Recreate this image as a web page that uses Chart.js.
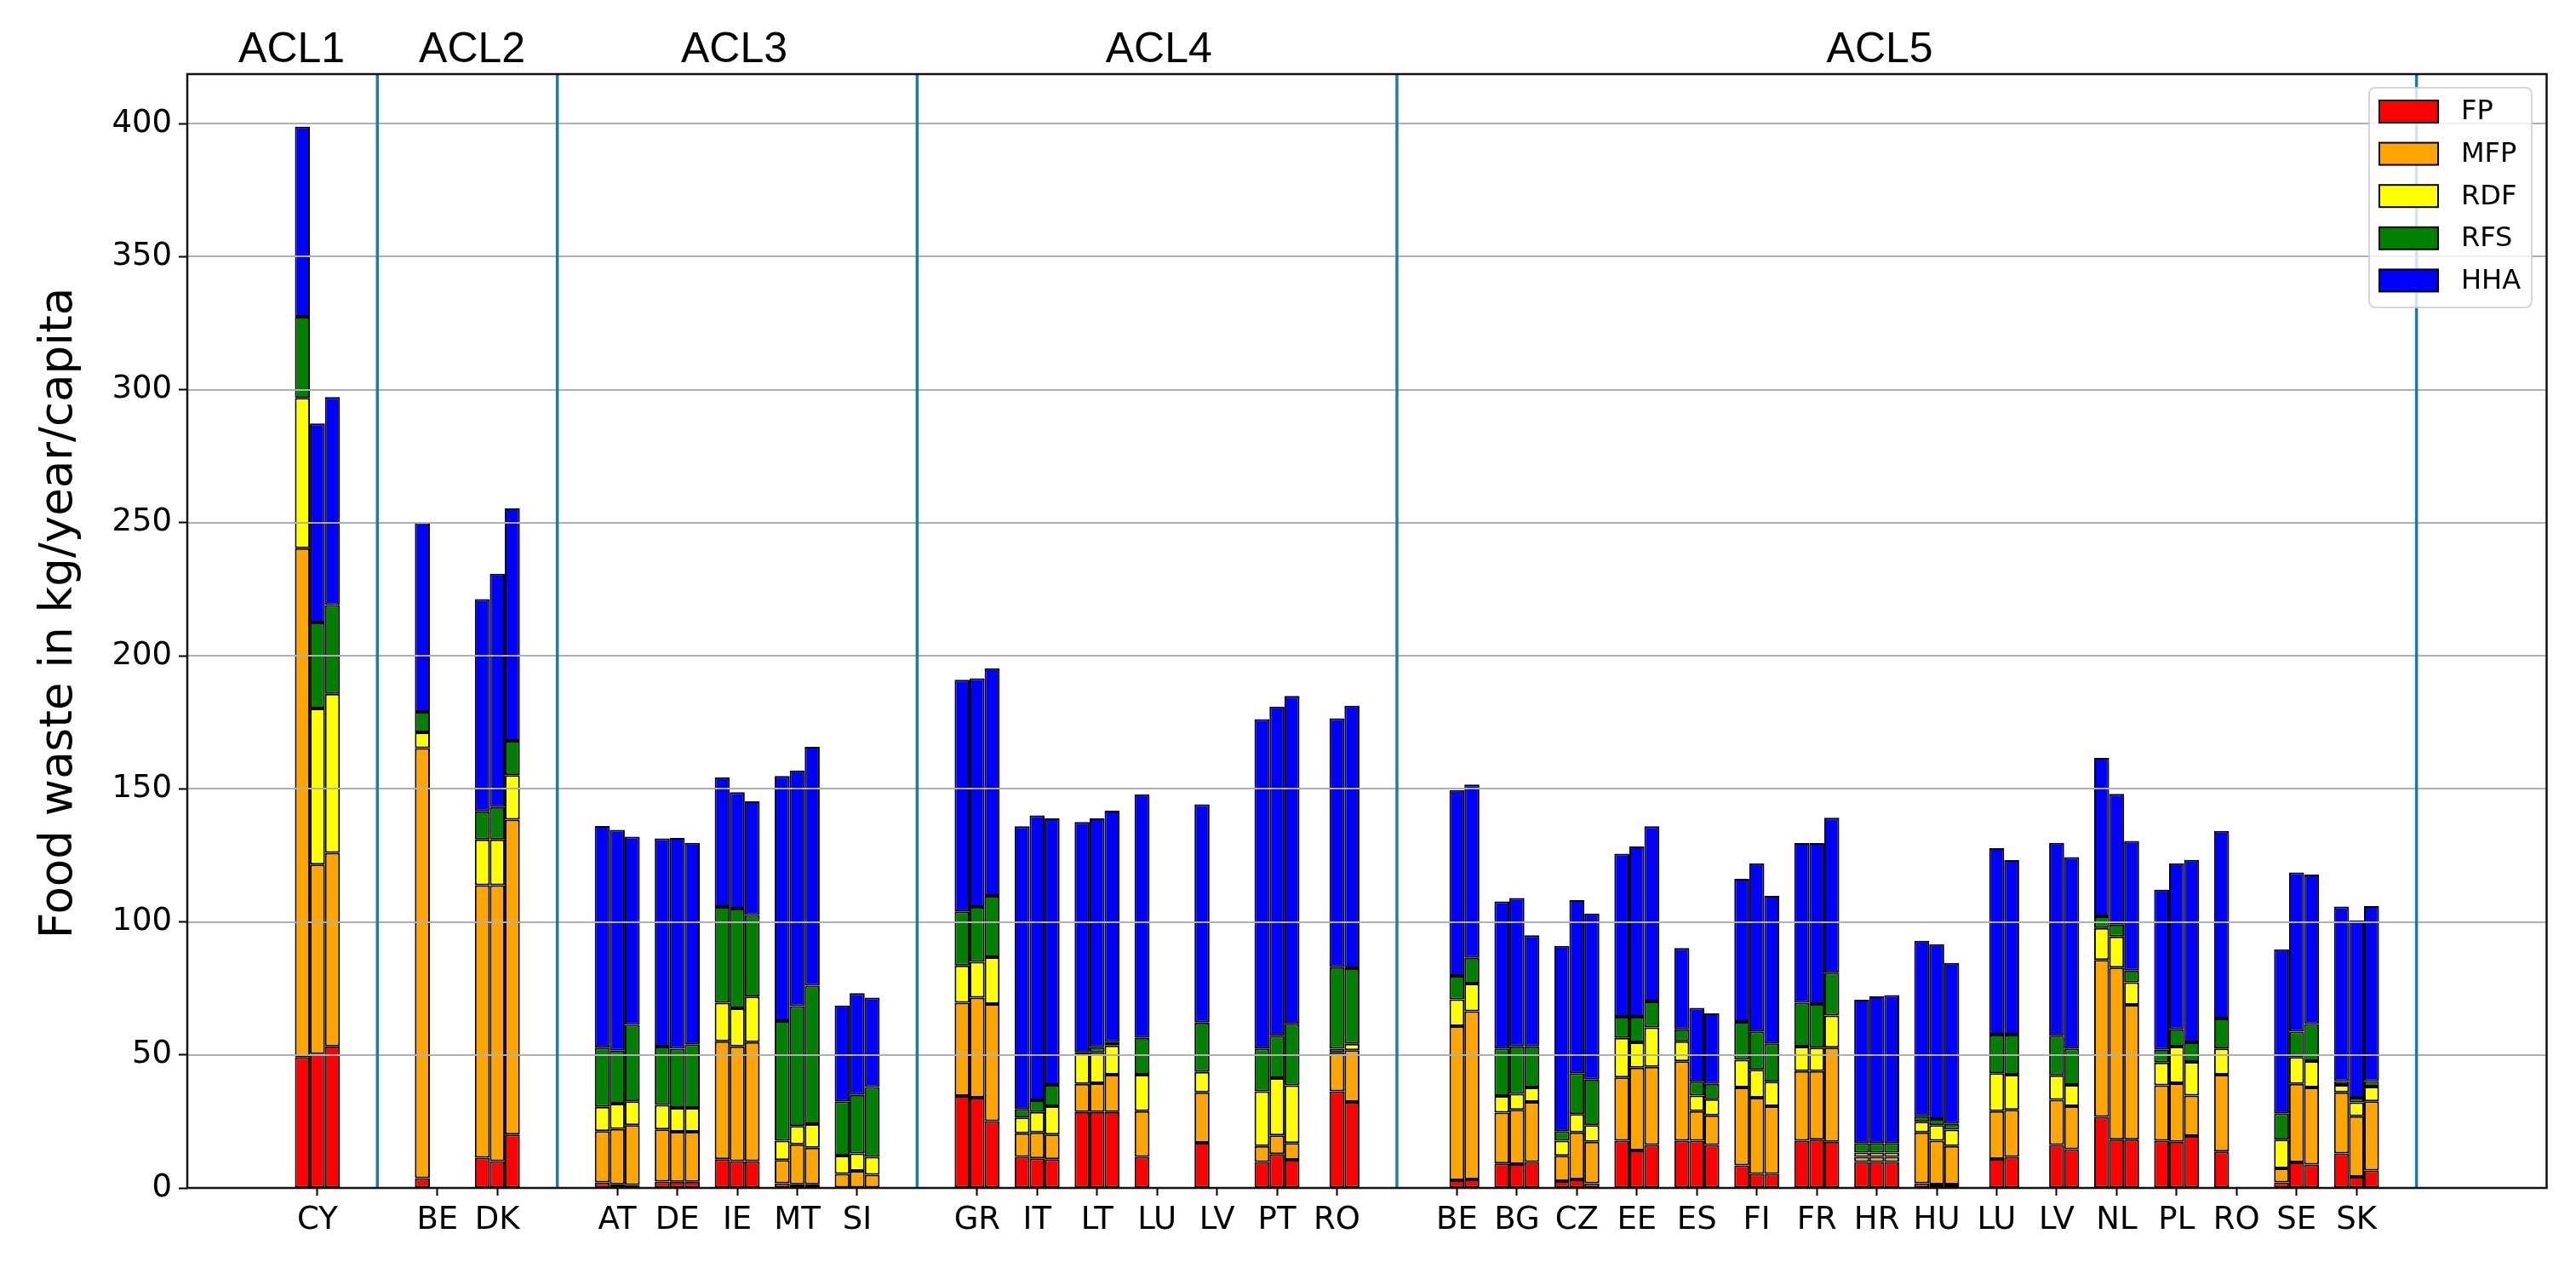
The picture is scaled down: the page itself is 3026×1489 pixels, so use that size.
<!DOCTYPE html>
<html>
<head>
<meta charset="utf-8">
<script src="https://cdn.jsdelivr.net/npm/chart.js@4.4.1/dist/chart.umd.min.js"></script>
<style>
html,body{margin:0;padding:0;background:#ffffff;}
canvas{display:block;}
</style>
</head>
<body>
<canvas id="c" width="3026" height="1489"></canvas>
<script>
// ---------------- DATA ----------------
const clusterNames = ['ACL1', 'ACL2', 'ACL3', 'ACL4', 'ACL5'];
const clusterCountries = [
  ['CY'],
  ['BE', 'DK'],
  ['AT', 'DE', 'IE', 'MT', 'SI'],
  ['GR', 'IT', 'LT', 'LU', 'LV', 'PT', 'RO'],
  ['BE', 'BG', 'CZ', 'EE', 'ES', 'FI', 'FR', 'HR', 'HU', 'LU', 'LV', 'NL', 'PL', 'RO', 'SE', 'SK']
];
const componentNames = ['FP', 'MFP', 'RDF', 'RFS', 'HHA'];
const yTicks = [0, 50, 100, 150, 200, 250, 300, 350, 400];

// values in kg/year/capita, one entry per country (flattened cluster order), null = no bar
// year 1 (left bar of each triplet)
const fp_y1  = [49.2, 3.7, 11.4, 2.1, 2.4, 10.8, 1.8, 0, 34.6, 11.7, 28.6, 11.7, 17.0, 9.8, null, null, 9.2, 2.6, 17.8, 17.8, 8.5, 17.8, 9.8, 1.8, null, null, 26.7, 17.8, 13.7, 2.1, 13.0];
const mfp_y1 = [191.2, 161.6, 102.4, 19.3, 19.6, 44.3, 8.7, 5.3, 35.0, 8.9, 10.5, 17.2, 18.9, 6.0, null, null, 19.1, 9.5, 23.7, 29.8, 29.3, 26.1, 1.9, 19.1, null, null, 59.0, 20.8, 28.9, 5.3, 22.9];
const rdf_y1 = [56.5, 5.9, 17.2, 9.1, 9.2, 14.5, 7.3, 6.9, 14.0, 5.9, 11.5, 13.7, 7.7, 20.5, null, null, 6.3, 5.7, 14.9, 7.5, 10.4, 9.2, 1.6, 4.0, null, null, 12.0, 8.5, 9.8, 10.8, 2.8];
const rfs_y1 = [30.5, 7.7, 10.5, 22.2, 21.9, 36.0, 44.9, 20.4, 20.3, 3.2, 0.5, 13.8, 18.6, 16.1, null, null, 17.8, 3.6, 7.9, 4.5, 14.2, 16.5, 3.6, 2.1, null, null, 4.4, 4.8, 11.3, 9.9, 1.5];
const hha_y1 = [71.4, 71.1, 79.8, 83.3, 78.3, 48.7, 92.1, 36.0, 87.1, 106.2, 86.4, 91.5, 82.0, 123.8, null, null, 55.3, 69.6, 61.3, 30.6, 53.8, 60.0, 53.8, 65.9, null, null, 59.5, 60.2, 70.5, 61.6, 65.6];
// year 2 (middle bar)
const fp_y2  = [50.3, null, 10.1, 1.4, 2.3, 10.1, 1.4, 0, 33.9, 11.1, 28.6, null, null, 12.7, 36.3, 2.9, 9.0, 3.2, 14.1, 17.8, 5.3, 18.2, 9.8, 1.3, 10.9, 16.2, 18.2, 17.4, null, 9.6, 4.2];
const mfp_y2 = [71.2, null, 103.7, 20.8, 18.8, 43.1, 15.0, 6.4, 37.6, 9.8, 10.8, null, null, 7.1, 14.7, 57.9, 20.4, 17.7, 31.1, 11.1, 28.6, 25.7, 1.9, 16.5, 18.0, 16.9, 64.6, 22.0, null, 29.5, 22.8];
const rdf_y2 = [58.7, null, 17.2, 9.5, 9.0, 14.3, 6.9, 6.6, 13.5, 7.7, 11.6, null, null, 21.5, 1.3, 10.1, 6.0, 6.9, 9.5, 5.8, 10.5, 8.8, 1.6, 5.8, 14.2, 9.2, 11.7, 13.7, null, 10.1, 5.2];
const rfs_y2 = [32.3, null, 12.1, 19.9, 22.2, 37.5, 45.0, 22.0, 20.6, 4.4, 1.9, null, null, 15.9, 30.7, 8.8, 17.8, 15.3, 9.6, 5.2, 14.4, 16.4, 3.6, 2.3, 14.5, 14.9, 4.5, 6.5, null, 9.5, 1.7];
const hha_y2 = [74.8, null, 87.7, 83.0, 79.2, 43.7, 88.6, 38.2, 85.9, 107.0, 86.0, null, null, 123.7, 93.5, 69.8, 55.8, 65.1, 64.0, 27.8, 63.2, 60.5, 55.1, 65.7, 70.1, 72.5, 49.1, 62.4, null, 59.9, 66.6];
// year 3 (right bar)
const fp_y3  = [53.2, null, 20.1, 1.1, 2.3, 10.1, 1.4, 0, 25.1, 10.8, 28.6, null, null, 10.6, 32.3, 3.2, 9.8, 1.8, 16.2, 16.2, 5.3, 17.4, 9.8, 1.3, 11.7, 14.6, 18.2, 19.5, null, 8.8, 6.6];
const mfp_y3 = [72.7, null, 118.3, 22.5, 18.8, 44.7, 13.7, 5.0, 44.0, 9.3, 14.0, null, null, 6.3, 19.5, 63.2, 22.5, 15.6, 29.3, 11.1, 25.4, 35.3, 1.9, 14.5, 17.7, 16.1, 50.6, 15.2, null, 29.0, 26.0];
const rdf_y3 = [59.8, null, 16.7, 9.0, 9.0, 17.1, 8.9, 6.7, 17.6, 10.6, 10.9, null, null, 21.7, 2.4, 10.4, 5.5, 6.2, 14.8, 6.1, 9.2, 12.1, 1.6, 6.1, 13.2, 8.0, 8.5, 12.7, null, 9.9, 5.5];
const rfs_y3 = [33.4, null, 12.9, 28.7, 23.9, 30.7, 52.0, 26.2, 23.1, 8.0, 1.3, null, null, 23.1, 28.4, 9.7, 15.4, 17.1, 9.8, 5.7, 14.4, 16.1, 3.6, 2.2, 15.0, 13.7, 4.4, 7.3, null, 13.9, 2.1];
const hha_y3 = [78.1, null, 87.4, 70.7, 75.7, 42.7, 89.8, 33.6, 85.5, 100.2, 87.0, null, null, 123.2, 98.6, 65.1, 41.8, 62.4, 65.8, 26.5, 55.5, 58.2, 55.6, 60.5, 65.6, 71.9, 48.7, 68.6, null, 56.2, 65.7];

// ---------------- STYLE / LAYOUT ----------------
const componentColors = ['#ff0000', '#ffa500', '#ffff00', '#008000', '#0000ff'];
const clusterLabelX = [-0.43, 2.58, 6.95, 14.03, 26.05]; // centre of cluster titles, in slot units
const xRange = { min: -2.17, max: 37.17 };
const yMax = 418.6;

// category slots: each cluster's countries, then one slot for the separator line
const countryLabels = [], countryPos = [], separatorPos = [];
(function () {
  let p = 0;
  clusterCountries.forEach(list => {
    list.forEach(c => { countryLabels.push(c); countryPos.push(p++); });
    separatorPos.push(p++);
  });
})();

const yearSeries = [
  [fp_y1, mfp_y1, rdf_y1, rfs_y1, hha_y1],
  [fp_y2, mfp_y2, rdf_y2, rfs_y2, hha_y2],
  [fp_y3, mfp_y3, rdf_y3, rfs_y3, hha_y3]
];

const datasets = [];
yearSeries.forEach((comps, yi) => {
  comps.forEach((arr, ci) => {
    datasets.push({
      label: componentNames[ci],
      stack: 'year' + (yi + 1),
      data: countryPos.map((x, i) => ({ x: x, y: arr[i] })).filter(d => d.y !== null),
      backgroundColor: componentColors[ci],
      borderColor: '#000000',
      borderWidth: 2,
      borderSkipped: false,
      categoryPercentage: 0.75,
      barPercentage: 1.0
    });
  });
});

const overlay = {
  id: 'overlay',
  afterDatasetsDraw(chart) {
    const { ctx, chartArea: a, scales: { x, y } } = chart;
    ctx.save();
    // horizontal grid lines (drawn over the bars, as in the original)
    ctx.strokeStyle = '#b0b0b0';
    ctx.lineWidth = 2;
    yTicks.forEach(v => {
      const py = Math.round(y.getPixelForValue(v));
      ctx.beginPath(); ctx.moveTo(a.left, py); ctx.lineTo(a.right, py); ctx.stroke();
    });
    // cluster separators
    ctx.strokeStyle = '#1f77b4';
    ctx.lineWidth = 3.5;
    separatorPos.forEach(v => {
      const px = x.getPixelForValue(v);
      ctx.beginPath(); ctx.moveTo(px, a.top); ctx.lineTo(px, a.bottom); ctx.stroke();
    });
    // frame
    ctx.strokeStyle = '#111111';
    ctx.lineWidth = 2.5;
    ctx.strokeRect(a.left, a.top, a.right - a.left, a.bottom - a.top);

    // legend (inside, upper right)
    const bw = 191, bh = 258;
    const bx = a.right - 17.5 - bw, by = a.top + 16;
    ctx.beginPath();
    if (ctx.roundRect) ctx.roundRect(bx, by, bw, bh, 7); else ctx.rect(bx, by, bw, bh);
    ctx.fillStyle = 'rgba(255,255,255,0.8)';
    ctx.fill();
    ctx.strokeStyle = 'rgba(204,204,204,0.8)';
    ctx.lineWidth = 2;
    ctx.stroke();
    ctx.font = '32px "DejaVu Sans"';
    ctx.textBaseline = 'middle';
    ctx.textAlign = 'left';
    componentNames.forEach((name, i) => {
      const cy = by + 28 + i * 49.6;
      ctx.fillStyle = componentColors[i];
      ctx.fillRect(bx + 12, cy - 13, 69, 26);
      ctx.strokeStyle = '#000';
      ctx.lineWidth = 2;
      ctx.strokeRect(bx + 12, cy - 13, 69, 26);
      ctx.fillStyle = '#000';
      ctx.fillText(name, bx + 108, cy + 1);
    });

    // cluster titles above the plot
    ctx.font = '50px "Liberation Sans"';
    ctx.textAlign = 'center';
    ctx.textBaseline = 'alphabetic';
    ctx.fillStyle = '#000';
    clusterNames.forEach((n, i) => {
      ctx.fillText(n, x.getPixelForValue(clusterLabelX[i]), a.top - 14.5);
    });

    // y axis title
    ctx.save();
    ctx.translate(84, (a.top + a.bottom) / 2 - 21);
    ctx.rotate(-Math.PI / 2);
    ctx.font = '53px "DejaVu Sans"';
    ctx.textAlign = 'center';
    ctx.textBaseline = 'alphabetic';
    ctx.fillText('Food waste in kg/year/capita', 0, 0);
    ctx.restore();

    ctx.restore();
  }
};

new Chart(document.getElementById('c'), {
  type: 'bar',
  data: { datasets: datasets },
  options: {
    responsive: false,
    animation: false,
    devicePixelRatio: 1,
    layout: { padding: { top: 87, right: 34.5, left: 0, bottom: 0 } },
    plugins: { legend: { display: false }, tooltip: { enabled: false } },
    scales: {
      x: {
        type: 'linear',
        offset: false,
        stacked: true,
        min: xRange.min,
        max: xRange.max,
        afterBuildTicks: s => { s.ticks = countryPos.map(v => ({ value: v })); },
        afterFit: s => { s.height = 94; },
        ticks: {
          callback: (v, i) => countryLabels[i],
          autoSkip: false,
          maxRotation: 0,
          minRotation: 0,
          padding: 7,
          color: '#000',
          font: { family: 'DejaVu Sans', size: 37 }
        },
        grid: { offset: false, drawOnChartArea: false, drawTicks: true, tickLength: 9, tickWidth: 2, tickColor: '#000' },
        border: { display: false }
      },
      y: {
        stacked: true,
        min: 0,
        max: yMax,
        afterBuildTicks: s => { s.ticks = yTicks.map(v => ({ value: v })); },
        afterFit: s => { s.width = 220; },
        ticks: {
          padding: 8,
          color: '#000',
          font: { family: 'DejaVu Sans', size: 37 }
        },
        grid: { drawOnChartArea: false, drawTicks: true, tickLength: 10, tickWidth: 2, tickColor: '#000' },
        border: { display: false }
      }
    }
  },
  plugins: [overlay]
});
</script>
</body>
</html>
